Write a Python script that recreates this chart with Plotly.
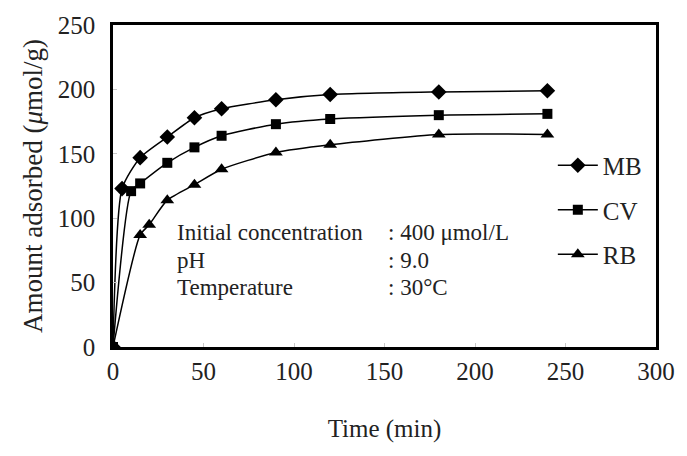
import plotly.graph_objects as go

# Adsorption kinetics: amount adsorbed vs contact time
time_mb = [0, 5, 15, 30, 45, 60, 90, 120, 180, 240]
q_mb = [0, 123, 147, 163, 178, 185, 192, 196, 198, 199]

time_cv = [0, 10, 15, 30, 45, 60, 90, 120, 180, 240]
q_cv = [0, 121, 127, 143, 155, 164, 173, 177, 180, 181]

time_rb = [0, 15, 20, 30, 45, 60, 90, 120, 180, 240]
q_rb = [0, 87, 95, 114, 126, 138, 151, 157, 165, 165]

x_ticks = [0, 50, 100, 150, 200, 250, 300]
y_ticks = [0, 50, 100, 150, 200, 250]

conditions = [
    ("Initial concentration", "400 μmol/L"),
    ("pH", "9.0"),
    ("Temperature", "30°C"),
]

FONT = "Liberation Serif, Times New Roman, serif"
TXT = "#222222"

series = [
    ("MB", time_mb, q_mb, "diamond", 12),
    ("CV", time_cv, q_cv, "square", 10),
    ("RB", time_rb, q_rb, "triangle-up", 12),
]

fig = go.Figure()
for name, t, q, sym, sz in series:
    fig.add_trace(go.Scatter(
        x=t, y=q, name=name, mode="lines+markers",
        line=dict(color="black", width=1.5, shape="spline", smoothing=0.6),
        marker=dict(symbol=sym, size=sz, color="black"),
        legendgroup=name,
    ))

axis_common = dict(
    showline=True, linecolor="black", linewidth=2.5, mirror=True,
    showgrid=False, zeroline=False,
    ticks="inside", ticklen=4, tickcolor="#c8c8c8",
    tickfont=dict(family=FONT, size=25, color=TXT),
)

fig.update_xaxes(range=[0, 300], tickvals=x_ticks,
                 title=dict(text="Time (min)", font=dict(family=FONT, size=25, color=TXT), standoff=36),
                 **axis_common)
fig.update_yaxes(range=[0, 250], tickvals=y_ticks, ticklabelstandoff=10,
                 title=dict(text="Amount adsorbed (<i>μ</i>mol/g)", font=dict(family=FONT, size=27, color=TXT), standoff=8),
                 **axis_common)

# Experimental conditions block with aligned colons
y0 = 0.355
dy = 0.085
for i, (label, value) in enumerate(conditions):
    fig.add_annotation(x=0.114, y=y0 - i * dy, xref="paper", yref="paper",
                       text=label, showarrow=False, xanchor="left", yanchor="middle",
                       font=dict(family=FONT, size=23, color=TXT))
    fig.add_annotation(x=0.503, y=y0 - i * dy, xref="paper", yref="paper",
                       text=": " + value, showarrow=False, xanchor="left", yanchor="middle",
                       font=dict(family=FONT, size=23, color=TXT))

fig.update_layout(
    width=687, height=456,
    margin=dict(l=113, r=22, t=17, b=109),
    plot_bgcolor="white", paper_bgcolor="white",
    font=dict(family=FONT, color=TXT),
    legend=dict(x=0.81, y=0.635, xanchor="left", yanchor="top",
                font=dict(family=FONT, size=25, color=TXT),
                bgcolor="rgba(0,0,0,0)", tracegroupgap=9, itemwidth=40),
    showlegend=True,
)

fig.write_html("out.html")
